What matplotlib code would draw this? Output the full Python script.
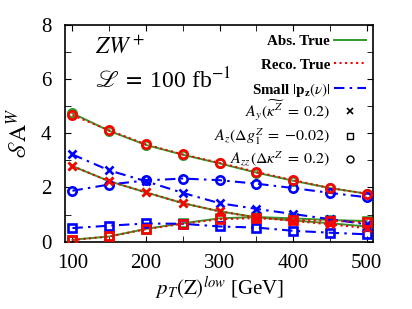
import matplotlib
matplotlib.use("Agg")
import matplotlib.pyplot as plt
from matplotlib.lines import Line2D
from matplotlib.ticker import MultipleLocator

plt.rcParams['font.family'] = ['Liberation Serif', 'DejaVu Serif']
plt.rcParams['mathtext.fontset'] = 'stix'

pt = [100, 150, 200, 250, 300, 350, 400, 450, 500]

# Abs. True (green solid)
abs_ay  = [2.79, 2.23, 1.82, 1.42, 1.12, 0.90, 0.78, 0.68, 0.56]
abs_az  = [0.07, 0.19, 0.47, 0.68, 0.86, 0.91, 0.86, 0.80, 0.76]
abs_azz = [4.74, 4.09, 3.57, 3.21, 2.89, 2.55, 2.25, 1.98, 1.77]

# Reco. True (red dotted)
reco_ay  = [2.79, 2.23, 1.82, 1.42, 1.12, 0.89, 0.77, 0.64, 0.50]
reco_az  = [0.06, 0.19, 0.46, 0.66, 0.83, 0.87, 0.81, 0.77, 0.71]
reco_azz = [4.67, 4.11, 3.59, 3.22, 2.91, 2.57, 2.27, 1.98, 1.77]

# Small |pz(nu)| (blue dash-dot)
small_ay  = [3.22, 2.63, 2.23, 1.80, 1.42, 1.21, 1.02, 0.83, 0.64]
small_az  = [0.50, 0.59, 0.67, 0.66, 0.56, 0.52, 0.40, 0.33, 0.27]
small_azz = [1.88, 2.11, 2.26, 2.33, 2.27, 2.14, 1.98, 1.80, 1.64]

labels = ["Abs. True", "Reco. True", r"Small $|\mathbf{p_z}(\nu)|$",
          r"$A_y(\widetilde{\kappa^Z}\;=\;0.2)$",
          r"$A_z(\Delta g_1^Z\;=\;{-}0.02)$",
          r"$A_{zz}(\Delta\kappa^Z\;=\;0.2)$"]

green = '#2e9a2e'
red = '#ff0000'
blue = '#0000ff'
dashdot = (0, (5, 2.5, 1.2, 2.5))

fig = plt.figure(figsize=(4.12, 3.09), dpi=100)
ax = fig.add_axes([0.158, 0.218, 0.748, 0.701])

def draw(vals, color, ls, lw, z):
    for v, m in zip(vals, ['x', 's', 'o']):
        ax.plot(pt, v, color=color, linestyle=ls, linewidth=lw, marker=m,
                markersize=6, markerfacecolor='none',
                markeredgewidth=1.9, zorder=z)

draw([abs_ay, abs_az, abs_azz], green, '-', 1.4, 2)
draw([small_ay, small_az, small_azz], blue, dashdot, 1.5, 3)
draw([reco_ay, reco_az, reco_azz], red, ':', 1.5, 4)

ax.set_xlim(90, 509)
ax.set_ylim(0, 8)
ax.xaxis.set_major_locator(MultipleLocator(100))
ax.xaxis.set_minor_locator(MultipleLocator(50))
ax.yaxis.set_major_locator(MultipleLocator(2))
ax.yaxis.set_minor_locator(MultipleLocator(1))
ax.tick_params(which='both', direction='in', top=True, right=True,
               labelsize=15)
ax.tick_params(axis='x', pad=9)
ax.tick_params(axis='y', pad=10)
ax.tick_params(which='major', length=4)
ax.tick_params(which='minor', length=4)
for s in ax.spines.values():
    s.set_linewidth(1.2)

ax.set_xlabel(r"$p_T(\mathrm{Z})^{low}$ [GeV]", fontsize=15, labelpad=1)
ax.set_ylabel(r"$\mathscr{S}\mathrm{A}^W$", fontsize=17, labelpad=6)

ax.text(0.097, 0.869, r"$ZW^+$", transform=ax.transAxes, fontsize=17)
ax.text(0.097, 0.708, r"$\mathscr{L}\;=\;$100 fb$^{-1}$", transform=ax.transAxes,
        fontsize=17)

# legend (right-aligned labels, samples on the right)
text_x = 0.860
line_x = (0.873, 0.976)
mark_x = 0.924
text_y = [0.908, 0.795, 0.681, 0.576, 0.466, 0.361]
samp_y = [0.931, 0.823, 0.708, 0.604, 0.489, 0.380]
styles = [dict(color=green, ls='-', lw=1.4),
          dict(color=red, ls=':', lw=1.5),
          dict(color=blue, ls=dashdot, lw=1.5),
          dict(color='black', ls='none', marker='x', ms=5, mew=1.2),
          dict(color='black', ls='none', marker='s', ms=5, mew=1.0, mfc='none'),
          dict(color='black', ls='none', marker='o', ms=5, mew=1.0, mfc='none')]
for i, (lab, st) in enumerate(zip(labels, styles)):
    ax.text(text_x, text_y[i], lab, transform=ax.transAxes, ha='right',
            va='baseline', fontsize=11.5 if i >= 3 else 10.8,
            fontweight='bold' if i < 3 else 'normal')
    if i < 3:
        ax.add_line(Line2D(line_x, [samp_y[i]] * 2, transform=ax.transAxes, **st))
    else:
        ax.add_line(Line2D([mark_x], [samp_y[i]], transform=ax.transAxes, **st))

fig.savefig("out.png", dpi=100)
